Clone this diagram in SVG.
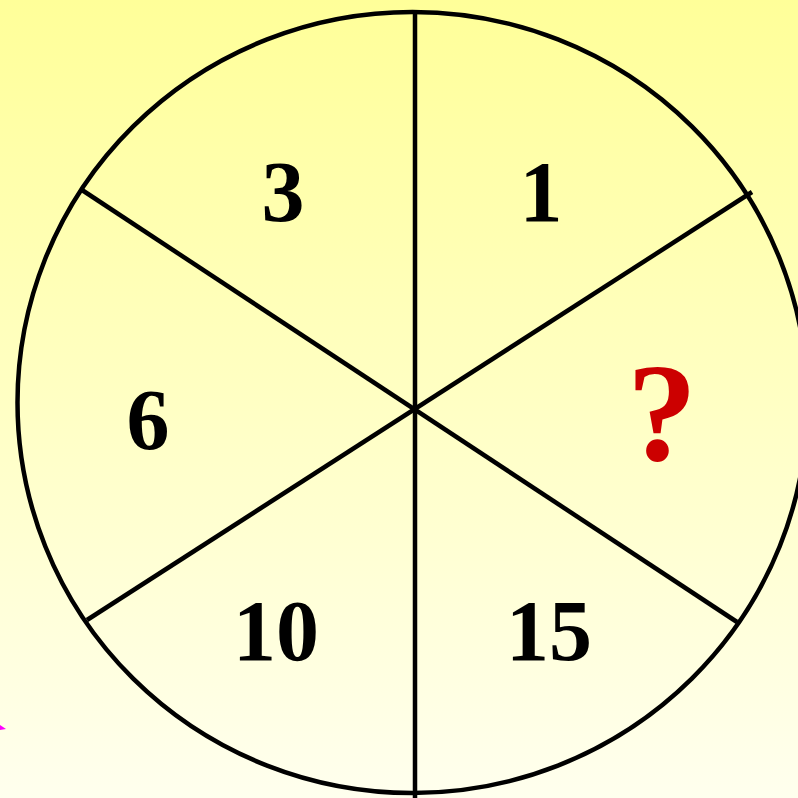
<svg xmlns="http://www.w3.org/2000/svg" width="798" height="798" viewBox="0 0 798 798">
<defs>
<linearGradient id="bg" x1="0" y1="0" x2="0" y2="1">
<stop offset="0" stop-color="#FFFF99"/>
<stop offset="1" stop-color="#FFFFEE"/>
</linearGradient>
<style>
.ln{stroke:#000;stroke-width:4.5;fill:none;stroke-linecap:butt}
.num{font-family:"Liberation Serif","Times New Roman",serif;font-weight:bold;font-size:86px;fill:#000;text-anchor:middle}
.q{font-family:"Liberation Serif","Times New Roman",serif;font-weight:bold;font-size:140px;fill:#CC0000;text-anchor:middle}
</style>
</defs>
<rect width="798" height="798" fill="url(#bg)"/>
<polygon points="0,725 6,729 0,730" fill="#FF00FF"/>
<g id="wheel">
<ellipse cx="412.5" cy="402.5" rx="395" ry="390.5" class="ln"/>
</g>
<g id="connectors">
<line x1="415" y1="12" x2="415" y2="798" class="ln"/>
<line x1="82" y1="190" x2="737" y2="622" class="ln"/>
<line x1="87" y1="620" x2="752" y2="192" class="ln"/>
</g>
<g id="s3"><text class="num" x="283" y="221">3</text></g>
<g id="s1"><text class="num" x="541" y="221">1</text></g>
<g id="s6"><text class="num" x="148" y="449">6</text></g>
<g id="sq"><text class="q" x="662" y="460">?</text></g>
<g id="s10"><text class="num" x="276" y="660">10</text></g>
<g id="s15"><text class="num" x="549" y="660">15</text></g>
</svg>
